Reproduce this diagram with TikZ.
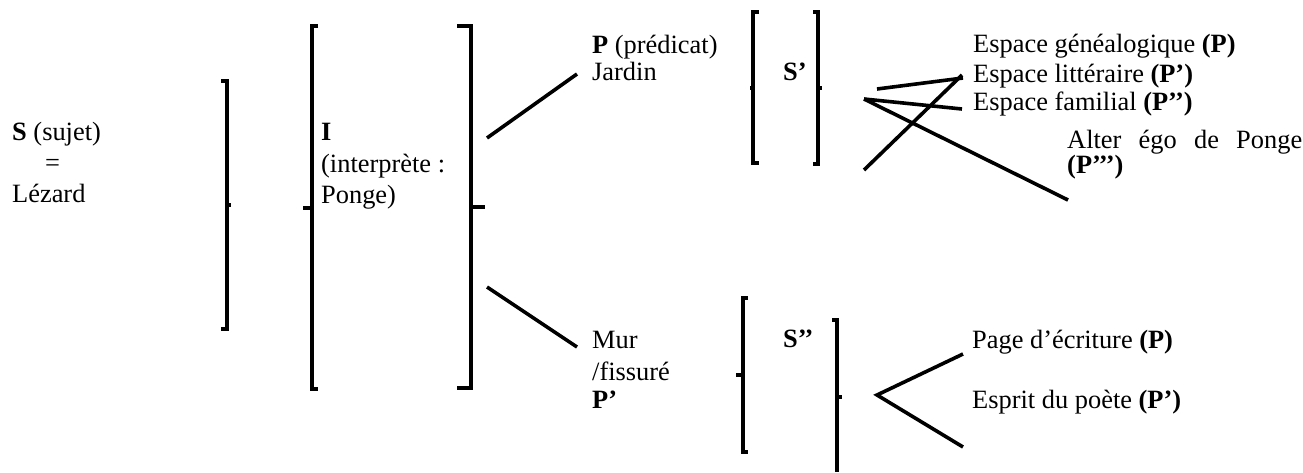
\documentclass[tikz,border=0pt]{standalone}
\usepackage{fontspec}
\setmainfont{Liberation Serif}
\begin{document}
\begin{tikzpicture}[x=1pt,y=-1pt,
  txt/.style={anchor=base west,inner sep=0pt,font=\fontsize{26.4}{30}\selectfont},
  brk/.style={line width=3.4pt,line cap=butt,line join=miter},
  conn/.style={line width=3.6pt}]
\useasboundingbox (0,0) rectangle (1303,472);
% texts
\node[txt] (s1) at (12,140) {\textbf{S} (sujet)};
\node[txt,anchor=base] (s2) at (52.5,171) {=};
\node[txt] (s3) at (12,202) {Lézard};
\node[txt] (i1) at (321,140) {\textbf{I}};
\node[txt] (i2) at (321,172) {(interprète :};
\node[txt] (i3) at (321,203) {Ponge)};
\node[txt] (p1) at (592,53) {\textbf{P} (prédicat)};
\node[txt] (p2) at (592,80) {Jardin};
\node[txt] (sp) at (783,80) {\textbf{S’}};
\node[txt] (e1) at (973,52) {Espace généalogique \textbf{(P)}};
\node[txt] (e2) at (973,82) {Espace littéraire \textbf{(P’)}};
\node[txt] (e3) at (973,110) {Espace familial \textbf{(P’’)}};
\node[txt] (e4) at (1067,148) {\makebox[235pt][s]{Alter égo de Ponge}};
\node[txt] (e5) at (1067,173) {\textbf{(P’’’)}};
\node[txt] (m1) at (592,348) {Mur};
\node[txt] (m2) at (592,380) {/fissuré};
\node[txt] (m3) at (592,408) {\textbf{P’}};
\node[txt] (spp) at (783,347) {\textbf{S’’}};
\node[txt] (f1) at (972,348) {Page d’écriture \textbf{(P)}};
\node[txt] (f2) at (972,408) {Esprit du poète \textbf{(P’)}};
% brackets
\draw[brk] (221,81) -- (227,81) -- (227,329) -- (221,329);
\draw[brk] (227,205) -- (231,205);
\draw[brk] (318,26) -- (312,26) -- (312,389) -- (318,389);
\draw[brk] (312,208) -- (303,208);
\draw[brk] (457,26) -- (471,26) -- (471,388) -- (457,388);
\draw[brk] (471,207) -- (485,207);
\draw[brk] (759,12) -- (753,12) -- (753,163) -- (759,163);
\draw[brk] (753,88) -- (750,88);
\draw[brk] (813,12) -- (818,12) -- (818,164) -- (813,164);
\draw[brk] (818,88) -- (822,88);
\draw[brk] (748,298) -- (743,298) -- (743,452) -- (748,452);
\draw[brk] (743,375) -- (736,375);
\draw[brk] (832,320) -- (837,320) -- (837,472);
\draw[brk] (837,397) -- (842,397);
% connector end points
\coordinate (ja) at (487,138); \coordinate (jb) at (577,74);
\coordinate (ma) at (487,287); \coordinate (mb) at (577,347);
\coordinate (aa) at (877,89); \coordinate (ab) at (963,78);
\coordinate (bo) at (864,99); \coordinate (bb) at (962,109);
\coordinate (cb) at (1068,200);
\coordinate (da) at (864,170); \coordinate (db) at (962,75);
\coordinate (ea) at (877,395); \coordinate (eb) at (963,354); \coordinate (ec) at (963,447);
% connectors
\draw[conn] (ja) -- (jb);
\draw[conn] (ma) -- (mb);
\draw[conn] (aa) -- (ab);
\draw[conn] (bo) -- (bb);
\draw[conn] (bo) -- (cb);
\draw[conn] (da) -- (db);
\draw[conn,line join=miter] (eb) -- (ea) -- (ec);
\end{tikzpicture}
\end{document}
